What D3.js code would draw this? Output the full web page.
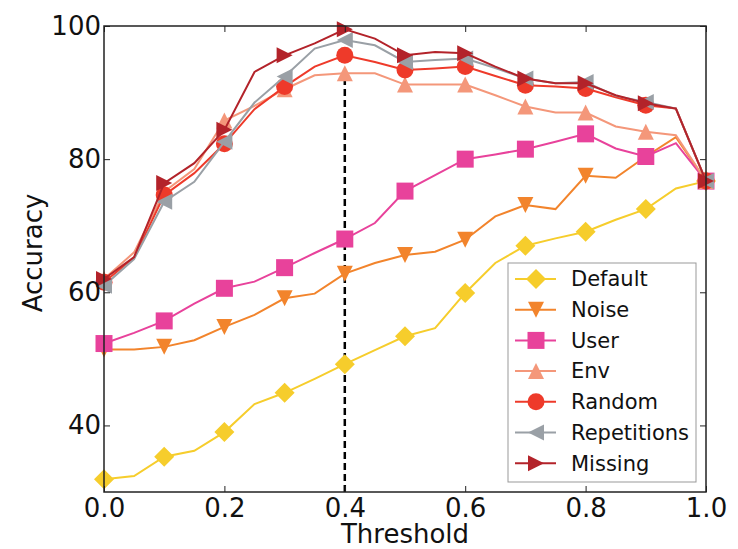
<!DOCTYPE html>
<html>
<head>
<meta charset="utf-8">
<script src="https://cdn.jsdelivr.net/npm/d3@7"></script>
<style>
  body { margin: 0; background: #fff; }
  text { font-family: "DejaVu Sans", sans-serif; }
</style>
</head>
<body>
<div id="chart"></div>
<script>
// thresholds (markers every 0.1, line bends every 0.05)
var thresholds = [0, 0.05, 0.1, 0.15, 0.2, 0.25, 0.3, 0.35, 0.4, 0.45, 0.5,
                  0.55, 0.6, 0.65, 0.7, 0.75, 0.8, 0.85, 0.9, 0.95, 1.0];

var defaultAcc = [31.9, 32.4, 35.3, 36.2, 39.0, 43.2, 44.9, 47.0, 49.2, 51.3, 53.4,
                  54.6, 59.9, 64.4, 67.0, 68.1, 69.1, 70.9, 72.5, 75.6, 76.7];
var noiseAcc   = [51.4, 51.4, 51.8, 52.8, 54.8, 56.6, 59.1, 59.8, 62.8, 64.4, 65.6,
                  66.1, 67.9, 71.4, 73.1, 72.5, 77.5, 77.2, 80.4, 83.3, 76.7];
var userAcc    = [52.3, 53.9, 55.7, 58.3, 60.6, 61.6, 63.7, 65.9, 68.0, 70.4, 75.2,
                  77.6, 80.0, 80.7, 81.5, 82.6, 83.8, 81.6, 80.4, 82.4, 76.7];
var envAcc     = [62.0, 66.0, 75.1, 78.5, 85.8, 88.0, 90.5, 92.6, 92.9, 92.9, 91.2,
                  91.2, 91.2, 89.6, 87.9, 87.0, 87.0, 84.9, 84.1, 83.6, 76.7];
var randomAcc  = [61.5, 65.2, 74.6, 77.9, 82.3, 87.5, 90.9, 93.9, 95.6, 94.6, 93.4,
                  93.6, 93.9, 92.5, 91.1, 90.9, 90.6, 89.3, 88.1, 87.6, 76.7];
var repAcc     = [61.0, 65.0, 73.6, 76.6, 82.6, 88.5, 92.4, 96.6, 97.9, 97.1, 94.6,
                  94.9, 95.1, 93.7, 92.1, 91.4, 91.6, 89.5, 88.6, 87.6, 76.7];
var missingAcc = [62.0, 65.3, 76.4, 79.4, 84.4, 93.1, 95.6, 97.4, 99.5, 98.1, 95.6,
                  96.1, 95.9, 93.9, 92.1, 91.4, 91.4, 89.6, 88.4, 87.6, 76.7];

var seriesNames = ["Default", "Noise", "User", "Env", "Random", "Repetitions", "Missing"];
var seriesValues = [defaultAcc, noiseAcc, userAcc, envAcc, randomAcc, repAcc, missingAcc];
var seriesColors = ["#F6CD2C", "#F2842C", "#E8429B", "#F4977A", "#EE3A2A", "#9AA0A6", "#B3232A"];
var seriesMarkers = ["diamond", "down", "square", "up", "circle", "left", "right"];

var xTicks = [0, 0.2, 0.4, 0.6, 0.8, 1.0];
var yTicks = [40, 60, 80, 100];
var cutoff = 0.4;
var cutoffTop = 92.9;

var W = 738, H = 549;
var margin = {top: 26, right: 32, bottom: 57, left: 104},
    width = W - margin.left - margin.right,
    height = H - margin.top - margin.bottom;

var svg = d3.select("#chart").append("svg")
  .attr("width", W).attr("height", H)
  .append("g")
  .attr("transform", "translate(" + margin.left + "," + margin.top + ")");

var x = d3.scaleLinear().domain([0, 1]).range([0, width]);
var y = d3.scaleLinear().domain([30, 100]).range([height, 0]);

// marker shapes
function markerPath(kind) {
  switch (kind) {
    case "diamond": return "M0,-10L10,0L0,10L-10,0Z";
    case "square": return "M-8.5,-8.5H8.5V8.5H-8.5Z";
    case "down": return "M-8,-8L8,-8L0,8Z";
    case "up": return "M-8,8L8,8L0,-8Z";
    case "left": return "M8,-8L8,8L-8,0Z";
    case "right": return "M-8,-8L-8,8L8,0Z";
    case "circle": return d3.symbol(d3.symbolCircle, Math.PI * 8.5 * 8.5)();
  }
}

// dashed cutoff line
svg.append("line")
  .attr("x1", x(cutoff)).attr("x2", x(cutoff))
  .attr("y1", y(30)).attr("y2", y(cutoffTop))
  .attr("stroke", "#000")
  .attr("stroke-width", 2.5)
  .attr("stroke-dasharray", "7,4");

var line = d3.line()
  .x(function(d) { return x(d.t); })
  .y(function(d) { return y(d.v); });

seriesNames.forEach(function(name, i) {
  var data = thresholds.map(function(t, j) { return {t: t, v: seriesValues[i][j]}; });
  svg.append("path")
    .datum(data)
    .attr("fill", "none")
    .attr("stroke", seriesColors[i])
    .attr("stroke-width", 2)
    .attr("d", line);
  svg.selectAll(".m" + i)
    .data(data.filter(function(d, j) { return j % 2 === 0; }))
    .enter().append("path")
    .attr("class", "m" + i)
    .attr("transform", function(d) { return "translate(" + x(d.t) + "," + y(d.v) + ")"; })
    .attr("d", markerPath(seriesMarkers[i]))
    .attr("fill", seriesColors[i]);
});

// axes with inward ticks on all four sides
function styleAxis(g) {
  g.select(".domain").remove();
  g.selectAll(".tick line").attr("stroke", "#222").attr("stroke-width", 1);
  g.selectAll("text").attr("font-size", 26).attr("fill", "#111");
}
svg.append("g")
  .attr("transform", "translate(0," + height + ")")
  .call(d3.axisBottom(x).tickValues(xTicks).tickFormat(d3.format(".1f")).tickSize(-6).tickPadding(7))
  .call(styleAxis);
svg.append("g")
  .call(d3.axisTop(x).tickValues(xTicks).tickFormat("").tickSize(-6))
  .call(styleAxis);
svg.append("g")
  .call(d3.axisLeft(y).tickValues(yTicks).tickSize(-6).tickPadding(3))
  .call(styleAxis);
svg.append("g")
  .attr("transform", "translate(" + width + ",0)")
  .call(d3.axisRight(y).tickValues(yTicks).tickFormat("").tickSize(-6))
  .call(styleAxis);

svg.append("rect")
  .attr("width", width).attr("height", height)
  .attr("fill", "none")
  .attr("stroke", "#222")
  .attr("stroke-width", 1.5);

// axis labels
svg.append("text")
  .attr("x", width / 2).attr("y", 517)
  .attr("text-anchor", "middle")
  .attr("font-size", 26)
  .attr("fill", "#111")
  .text("Threshold");
svg.append("text")
  .attr("transform", "translate(-62," + (227) + ") rotate(-90)")
  .attr("text-anchor", "middle")
  .attr("font-size", 26)
  .attr("fill", "#111")
  .text("Accuracy");

// legend
var legend = svg.append("g").attr("transform", "translate(" + (508 - margin.left) + "," + (263 - margin.top) + ")");
legend.append("rect")
  .attr("width", 188).attr("height", 219)
  .attr("fill", "#fff")
  .attr("stroke", "#999")
  .attr("stroke-width", 1);
seriesNames.forEach(function(name, i) {
  var ly = 16 + i * 30.7;
  legend.append("line")
    .attr("x1", 7).attr("x2", 48)
    .attr("y1", ly).attr("y2", ly)
    .attr("stroke", seriesColors[i])
    .attr("stroke-width", 2);
  legend.append("path")
    .attr("transform", "translate(28," + ly + ")")
    .attr("d", markerPath(seriesMarkers[i]))
    .attr("fill", seriesColors[i]);
  legend.append("text")
    .attr("x", 63).attr("y", ly)
    .attr("dy", "0.35em")
    .attr("font-size", 21)
    .attr("fill", "#111")
    .text(name);
});
</script>
</body>
</html>
